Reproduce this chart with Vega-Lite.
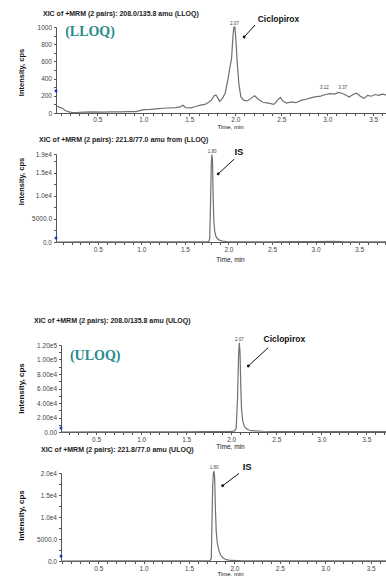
{
  "$schema": "https://vega.github.io/schema/vega-lite/v6.json",
  "autosize": {"type": "pad"},
  "padding": {"left": 16, "top": 10, "right": 0, "bottom": 0},
  "background": "white",
  "config": {
    "view": {"stroke": null},
    "axis": {"domainColor": "#555", "tickColor": "#555", "labelColor": "#444", "labelFont": "Liberation Sans", "labelFontSize": 6.5, "titleFont": "Liberation Sans", "titleColor": "#111", "grid": false, "tickSize": 2.5, "labelPadding": 2, "domainWidth": 1, "tickWidth": 1, "labelOverlap": false, "labelFlush": false},
    "title": {"font": "Liberation Sans", "fontSize": 7, "fontWeight": "bold", "color": "#222", "anchor": "start", "frame": "group", "baseline": "bottom"},
    "line": {"color": "#707070", "strokeWidth": 1.2}
  },
  "datasets": {
    "p1": [
      {"t":0.055,"v":80},{"t":0.07,"v":78},{"t":0.09,"v":65},{"t":0.12,"v":55},{"t":0.15,"v":30},{"t":0.18,"v":15},{"t":0.22,"v":8},{"t":0.27,"v":6},{"t":0.35,"v":10},{"t":0.45,"v":12},{"t":0.55,"v":10},{"t":0.65,"v":13},{"t":0.75,"v":12},{"t":0.85,"v":15},{"t":0.92,"v":16},{"t":0.97,"v":30},{"t":1.0,"v":40},{"t":1.08,"v":42},{"t":1.16,"v":50},{"t":1.22,"v":55},{"t":1.28,"v":58},{"t":1.35,"v":62},{"t":1.4,"v":72},{"t":1.43,"v":90},{"t":1.46,"v":62},{"t":1.52,"v":60},{"t":1.57,"v":75},{"t":1.62,"v":92},{"t":1.67,"v":100},{"t":1.71,"v":125},{"t":1.74,"v":150},{"t":1.77,"v":200},{"t":1.79,"v":210},{"t":1.81,"v":175},{"t":1.83,"v":135},{"t":1.86,"v":170},{"t":1.89,"v":230},{"t":1.92,"v":390},{"t":1.94,"v":520},{"t":1.96,"v":640},{"t":1.975,"v":900},{"t":1.985,"v":1000},{"t":1.995,"v":1000},{"t":2.005,"v":880},{"t":2.02,"v":600},{"t":2.04,"v":330},{"t":2.06,"v":190},{"t":2.09,"v":150},{"t":2.13,"v":140},{"t":2.17,"v":170},{"t":2.21,"v":200},{"t":2.25,"v":160},{"t":2.3,"v":125},{"t":2.36,"v":115},{"t":2.42,"v":100},{"t":2.46,"v":150},{"t":2.49,"v":180},{"t":2.52,"v":135},{"t":2.56,"v":115},{"t":2.61,"v":130},{"t":2.66,"v":120},{"t":2.72,"v":150},{"t":2.77,"v":160},{"t":2.82,"v":175},{"t":2.88,"v":190},{"t":2.93,"v":196},{"t":2.98,"v":215},{"t":3.03,"v":225},{"t":3.08,"v":220},{"t":3.12,"v":240},{"t":3.16,"v":230},{"t":3.2,"v":210},{"t":3.24,"v":185},{"t":3.28,"v":215},{"t":3.32,"v":230},{"t":3.36,"v":195},{"t":3.4,"v":170},{"t":3.44,"v":205},{"t":3.48,"v":195},{"t":3.52,"v":215},{"t":3.56,"v":205},{"t":3.6,"v":220},{"t":3.64,"v":210}
    ],
    "p2": [
      {"t":0.02,"v":0},{"t":0.3,"v":20},{"t":0.6,"v":10},{"t":1.0,"v":30},{"t":1.4,"v":20},{"t":1.7,"v":30},{"t":1.775,"v":50},{"t":1.785,"v":800},{"t":1.795,"v":9000},{"t":1.803,"v":17000},{"t":1.81,"v":18900},{"t":1.817,"v":17500},{"t":1.824,"v":10000},{"t":1.832,"v":4500},{"t":1.842,"v":2400},{"t":1.855,"v":1300},{"t":1.87,"v":800},{"t":1.89,"v":450},{"t":1.93,"v":200},{"t":1.98,"v":100},{"t":2.1,"v":50},{"t":2.5,"v":40},{"t":2.8,"v":80},{"t":3.0,"v":60},{"t":3.2,"v":120},{"t":3.3,"v":60},{"t":3.6,"v":40},{"t":3.82,"v":30}
    ],
    "p3": [
      {"t":0.11,"v":0},{"t":0.5,"v":100},{"t":1.0,"v":150},{"t":1.5,"v":200},{"t":1.7,"v":600},{"t":1.9,"v":700},{"t":2.0,"v":800},{"t":2.04,"v":1500},{"t":2.055,"v":5000},{"t":2.07,"v":45000},{"t":2.082,"v":105000},{"t":2.09,"v":123000},{"t":2.098,"v":110000},{"t":2.106,"v":65000},{"t":2.115,"v":30000},{"t":2.13,"v":14000},{"t":2.15,"v":7000},{"t":2.18,"v":3500},{"t":2.22,"v":1800},{"t":2.35,"v":1000},{"t":2.6,"v":500},{"t":3.0,"v":400},{"t":3.4,"v":500},{"t":3.73,"v":400}
    ],
    "p4": [
      {"t":0.09,"v":0},{"t":0.5,"v":20},{"t":1.0,"v":30},{"t":1.5,"v":20},{"t":1.73,"v":30},{"t":1.745,"v":600},{"t":1.752,"v":8000},{"t":1.76,"v":17000},{"t":1.768,"v":20000},{"t":1.775,"v":20400},{"t":1.782,"v":19000},{"t":1.79,"v":12000},{"t":1.8,"v":6500},{"t":1.812,"v":4000},{"t":1.83,"v":2300},{"t":1.85,"v":1300},{"t":1.875,"v":700},{"t":1.91,"v":300},{"t":1.96,"v":120},{"t":2.1,"v":50},{"t":2.6,"v":40},{"t":3.2,"v":40},{"t":3.68,"v":30}
    ],
    "ann": [
      {"p":1,"k":"tag","t":0.42,"v":942,"txt":"(LLOQ)"},
      {"p":1,"k":"name","t":2.47,"v":1093,"txt":"Ciclopirox"},
      {"p":1,"k":"arrow","t":2.215,"v":1023,"t2":2.096,"v2":884},
      {"p":1,"k":"head","t":2.096,"v":884},
      {"p":1,"k":"peak","t":1.99,"v":1010,"txt":"2.07"},
      {"p":1,"k":"peak","t":2.97,"v":270,"txt":"3.12"},
      {"p":1,"k":"peak","t":3.17,"v":270,"txt":"3.37"},
      {"p":1,"k":"marker","t":0.05,"v":256},
      {"p":2,"k":"name","t":2.12,"v":19440,"txt":"IS"},
      {"p":2,"k":"arrow","t":2.066,"v":17900,"t2":1.882,"v2":14700},
      {"p":2,"k":"head","t":1.882,"v":14700},
      {"p":2,"k":"peak","t":1.813,"v":19100,"txt":"1.80"},
      {"p":2,"k":"marker","t":0.02,"v":860},
      {"p":3,"k":"tag","t":0.49,"v":104800,"txt":"(ULOQ)"},
      {"p":3,"k":"name","t":2.59,"v":128600,"txt":"Ciclopirox"},
      {"p":3,"k":"arrow","t":2.41,"v":116200,"t2":2.19,"v2":91000},
      {"p":3,"k":"head","t":2.19,"v":91000},
      {"p":3,"k":"peak","t":2.09,"v":124000,"txt":"2.07"},
      {"p":3,"k":"marker","t":0.11,"v":5500},
      {"p":4,"k":"name","t":2.14,"v":21270,"txt":"IS"},
      {"p":4,"k":"arrow","t":2.05,"v":19900,"t2":1.87,"v2":17100},
      {"p":4,"k":"head","t":1.87,"v":17100},
      {"p":4,"k":"peak","t":1.775,"v":20600,"txt":"1.80"},
      {"p":4,"k":"marker","t":0.09,"v":1100}
    ]
  },
  "spacing": 41,
  "bounds": "flush",
  "vconcat": [
    {
      "width": 331, "height": 86,
      "title": {"text": "XIC of +MRM (2 pairs): 208.0/135.8 amu (LLOQ)", "dx": -13, "offset": -2},
      "encoding": {
        "x": {"field": "t", "type": "quantitative", "scale": {"domain": [0.05, 3.65], "nice": false, "zero": false},
              "axis": {"values": [0.1,0.2,0.3,0.4,0.5,0.6,0.7,0.8,0.9,1.0,1.1,1.2,1.3,1.4,1.5,1.6,1.7,1.8,1.9,2.0,2.1,2.2,2.3,2.4,2.5,2.6,2.7,2.8,2.9,3.0,3.1,3.2,3.3,3.4,3.5,3.6],
                       "labelExpr": "indexof(['0.5','1.0','1.5','2.0','2.5','3.0','3.5'], format(datum.value,'.1f')) >= 0 ? format(datum.value,'.1f') : ''",
                       "labelPadding": 0.5, "title": "Time, min", "titleFontSize": 6, "titleFontWeight": "normal", "titleX": 174, "titleY": 13.5, "titleBaseline": "middle", "titleAlign": "center"}},
        "y": {"field": "v", "type": "quantitative", "scale": {"domain": [0, 1000], "nice": false},
              "axis": {"values": [0,100,200,300,400,500,600,700,800,900,1000],
                       "labelExpr": "datum.value % 200 == 0 ? format(datum.value,'d') : ''",
                       "title": "Intensity, cps", "titleFontSize": 7.5, "titleFontWeight": "bold", "titleX": -34.5, "titleY": 45, "titleAngle": -90, "titleBaseline": "middle", "titleAlign": "center"}}
      },
      "layer": [
        {"data": {"name": "p1"}, "mark": {"type": "line"}},
        {"data": {"name": "ann"}, "transform": [{"filter": "datum.p == 1 && datum.k == 'tag'"}], "mark": {"type": "text", "font": "Liberation Serif", "fontWeight": "bold", "fontSize": 14, "color": "#2a8c8c"}, "encoding": {"text": {"field": "txt"}}},
        {"data": {"name": "ann"}, "transform": [{"filter": "datum.p == 1 && datum.k == 'name'"}], "mark": {"type": "text", "font": "Liberation Sans", "fontWeight": "bold", "fontSize": 8.5, "color": "#111"}, "encoding": {"text": {"field": "txt"}}},
        {"data": {"name": "ann"}, "transform": [{"filter": "datum.p == 1 && datum.k == 'peak'"}], "mark": {"type": "text", "font": "Liberation Sans", "fontSize": 4.5, "color": "#444", "baseline": "bottom"}, "encoding": {"text": {"field": "txt"}}},
        {"data": {"name": "ann"}, "transform": [{"filter": "datum.p == 1 && datum.k == 'arrow'"}], "mark": {"type": "rule", "color": "#111", "strokeWidth": 1}, "encoding": {"x2": {"field": "t2"}, "y2": {"field": "v2"}}},
        {"data": {"name": "ann"}, "transform": [{"filter": "datum.p == 1 && datum.k == 'head'"}], "mark": {"type": "point", "filled": true, "color": "#111", "size": 8, "opacity": 1}},
        {"data": {"name": "ann"}, "transform": [{"filter": "datum.p == 1 && datum.k == 'marker'"}], "mark": {"type": "square", "color": "#2238b0", "size": 7, "opacity": 1}}
      ]
    },
    {
      "width": 331, "height": 88,
      "title": {"text": "XIC of +MRM (2 pairs): 221.8/77.0 amu from (LLOQ)", "dx": -17, "offset": 4},
      "encoding": {
        "x": {"field": "t", "type": "quantitative", "scale": {"domain": [0.02, 3.82], "nice": false, "zero": false},
              "axis": {"values": [0.1,0.2,0.3,0.4,0.5,0.6,0.7,0.8,0.9,1.0,1.1,1.2,1.3,1.4,1.5,1.6,1.7,1.8,1.9,2.0,2.1,2.2,2.3,2.4,2.5,2.6,2.7,2.8,2.9,3.0,3.1,3.2,3.3,3.4,3.5,3.6,3.7,3.8],
                       "labelExpr": "indexof(['0.5','1.0','1.5','2.0','2.5','3.0','3.5'], format(datum.value,'.1f')) >= 0 ? format(datum.value,'.1f') : ''",
                       "labelPadding": 2, "title": "Time, min", "titleFontSize": 6.5, "titleFontWeight": "normal", "titleX": 174, "titleY": 17, "titleBaseline": "middle", "titleAlign": "center"}},
        "y": {"field": "v", "type": "quantitative", "scale": {"domain": [0, 19000], "nice": false},
              "axis": {"values": [0,2500,5000,7500,10000,12500,15000,17500,19000],
                       "labelExpr": "datum.value == 0 ? '0.0' : datum.value == 5000 ? '5000.0' : datum.value == 10000 ? '1.0e4' : datum.value == 15000 ? '1.5e4' : datum.value == 19000 ? '1.9e4' : ''",
                       "title": "Intensity, cps", "titleFontSize": 7.5, "titleFontWeight": "bold", "titleX": -34.5, "titleY": 27, "titleAngle": -90, "titleBaseline": "middle", "titleAlign": "center"}}
      },
      "layer": [
        {"data": {"name": "p2"}, "mark": {"type": "line"}},
        {"data": {"name": "ann"}, "transform": [{"filter": "datum.p == 2 && datum.k == 'name'"}], "mark": {"type": "text", "font": "Liberation Sans", "fontWeight": "bold", "fontSize": 9.5, "color": "#111"}, "encoding": {"text": {"field": "txt"}}},
        {"data": {"name": "ann"}, "transform": [{"filter": "datum.p == 2 && datum.k == 'peak'"}], "mark": {"type": "text", "font": "Liberation Sans", "fontSize": 4.5, "color": "#444", "baseline": "bottom"}, "encoding": {"text": {"field": "txt"}}},
        {"data": {"name": "ann"}, "transform": [{"filter": "datum.p == 2 && datum.k == 'arrow'"}], "mark": {"type": "rule", "color": "#111", "strokeWidth": 1}, "encoding": {"x2": {"field": "t2"}, "y2": {"field": "v2"}}},
        {"data": {"name": "ann"}, "transform": [{"filter": "datum.p == 2 && datum.k == 'head'"}], "mark": {"type": "point", "filled": true, "color": "#111", "size": 8, "opacity": 1}},
        {"data": {"name": "ann"}, "transform": [{"filter": "datum.p == 2 && datum.k == 'marker'"}], "mark": {"type": "square", "color": "#2238b0", "size": 7, "opacity": 1}}
      ]
    },
    {
      "width": 331, "height": 21,
      "data": {"values": [{"a": 1}]},
      "mark": {"type": "text", "text": ""}
    },
    {
      "width": 331, "height": 87,
      "title": {"text": "XIC of +MRM (2 pairs): 208.0/135.8 amu (ULOQ)", "dx": -22, "offset": 11},
      "encoding": {
        "x": {"field": "t", "type": "quantitative", "scale": {"domain": [0.11, 3.73], "range": [5, 331], "nice": false, "zero": false},
              "axis": {"values": [0.2,0.3,0.4,0.5,0.6,0.7,0.8,0.9,1.0,1.1,1.2,1.3,1.4,1.5,1.6,1.7,1.8,1.9,2.0,2.1,2.2,2.3,2.4,2.5,2.6,2.7,2.8,2.9,3.0,3.1,3.2,3.3,3.4,3.5,3.6,3.7],
                       "labelExpr": "indexof(['0.5','1.0','1.5','2.0','2.5','3.0','3.5'], format(datum.value,'.1f')) >= 0 ? format(datum.value,'.1f') : ''",
                       "labelPadding": 1.5, "title": "Time, min", "titleFontSize": 6.5, "titleFontWeight": "normal", "titleX": 174, "titleY": 14, "titleBaseline": "middle", "titleAlign": "center"}},
        "y": {"field": "v", "type": "quantitative", "scale": {"domain": [0, 120000], "nice": false},
              "axis": {"offset": -5, "values": [0,10000,20000,30000,40000,50000,60000,70000,80000,90000,100000,110000,120000],
                       "labelExpr": "datum.value == 0 ? '0.00' : datum.value % 20000 != 0 ? '' : datum.value < 100000 ? format(datum.value/10000,'.2f') + 'e4' : format(datum.value/100000,'.2f') + 'e5'",
                       "title": "Intensity, cps", "titleFontSize": 8, "titleFontWeight": "bold", "titleX": -40, "titleY": 43, "titleAngle": -90, "titleBaseline": "middle", "titleAlign": "center"}}
      },
      "layer": [
        {"data": {"name": "p3"}, "mark": {"type": "line"}},
        {"data": {"name": "ann"}, "transform": [{"filter": "datum.p == 3 && datum.k == 'tag'"}], "mark": {"type": "text", "font": "Liberation Serif", "fontWeight": "bold", "fontSize": 14, "color": "#2a8c8c"}, "encoding": {"text": {"field": "txt"}}},
        {"data": {"name": "ann"}, "transform": [{"filter": "datum.p == 3 && datum.k == 'name'"}], "mark": {"type": "text", "font": "Liberation Sans", "fontWeight": "bold", "fontSize": 8.5, "color": "#111"}, "encoding": {"text": {"field": "txt"}}},
        {"data": {"name": "ann"}, "transform": [{"filter": "datum.p == 3 && datum.k == 'peak'"}], "mark": {"type": "text", "font": "Liberation Sans", "fontSize": 4.5, "color": "#444", "baseline": "bottom"}, "encoding": {"text": {"field": "txt"}}},
        {"data": {"name": "ann"}, "transform": [{"filter": "datum.p == 3 && datum.k == 'arrow'"}], "mark": {"type": "rule", "color": "#111", "strokeWidth": 1}, "encoding": {"x2": {"field": "t2"}, "y2": {"field": "v2"}}},
        {"data": {"name": "ann"}, "transform": [{"filter": "datum.p == 3 && datum.k == 'head'"}], "mark": {"type": "point", "filled": true, "color": "#111", "size": 8, "opacity": 1}},
        {"data": {"name": "ann"}, "transform": [{"filter": "datum.p == 3 && datum.k == 'marker'"}], "mark": {"type": "square", "color": "#2238b0", "size": 7, "opacity": 1}}
      ]
    },
    {
      "width": 331, "height": 88,
      "title": {"text": "XIC of +MRM (2 pairs): 221.8/77.0 amu (ULOQ)", "dx": -15, "offset": 9},
      "encoding": {
        "x": {"field": "t", "type": "quantitative", "scale": {"domain": [0.09, 3.68], "range": [5, 331], "nice": false, "zero": false},
              "axis": {"values": [0.1,0.2,0.3,0.4,0.5,0.6,0.7,0.8,0.9,1.0,1.1,1.2,1.3,1.4,1.5,1.6,1.7,1.8,1.9,2.0,2.1,2.2,2.3,2.4,2.5,2.6,2.7,2.8,2.9,3.0,3.1,3.2,3.3,3.4,3.5,3.6],
                       "labelExpr": "indexof(['0.5','1.0','1.5','2.0','2.5','3.0','3.5'], format(datum.value,'.1f')) >= 0 ? format(datum.value,'.1f') : ''",
                       "labelPadding": 1.5, "title": "Time, min", "titleFontSize": 6, "titleFontWeight": "normal", "titleX": 174, "titleY": 12, "titleBaseline": "middle", "titleAlign": "center"}},
        "y": {"field": "v", "type": "quantitative", "scale": {"domain": [0, 20000], "nice": false},
              "axis": {"offset": -5, "values": [0,2500,5000,7500,10000,12500,15000,17500,20000],
                       "labelExpr": "datum.value == 0 ? '0.0' : datum.value == 5000 ? '5000.0' : datum.value == 10000 ? '1.0e4' : datum.value == 15000 ? '1.5e4' : datum.value == 20000 ? '2.0e4' : ''",
                       "title": "Intensity, cps", "titleFontSize": 8, "titleFontWeight": "bold", "titleX": -40, "titleY": 42, "titleAngle": -90, "titleBaseline": "middle", "titleAlign": "center"}}
      },
      "layer": [
        {"data": {"name": "p4"}, "mark": {"type": "line"}},
        {"data": {"name": "ann"}, "transform": [{"filter": "datum.p == 4 && datum.k == 'name'"}], "mark": {"type": "text", "font": "Liberation Sans", "fontWeight": "bold", "fontSize": 9.5, "color": "#111"}, "encoding": {"text": {"field": "txt"}}},
        {"data": {"name": "ann"}, "transform": [{"filter": "datum.p == 4 && datum.k == 'peak'"}], "mark": {"type": "text", "font": "Liberation Sans", "fontSize": 4.5, "color": "#444", "baseline": "bottom"}, "encoding": {"text": {"field": "txt"}}},
        {"data": {"name": "ann"}, "transform": [{"filter": "datum.p == 4 && datum.k == 'arrow'"}], "mark": {"type": "rule", "color": "#111", "strokeWidth": 1}, "encoding": {"x2": {"field": "t2"}, "y2": {"field": "v2"}}},
        {"data": {"name": "ann"}, "transform": [{"filter": "datum.p == 4 && datum.k == 'head'"}], "mark": {"type": "point", "filled": true, "color": "#111", "size": 8, "opacity": 1}},
        {"data": {"name": "ann"}, "transform": [{"filter": "datum.p == 4 && datum.k == 'marker'"}], "mark": {"type": "square", "color": "#2238b0", "size": 7, "opacity": 1}}
      ]
    }
  ]
}
